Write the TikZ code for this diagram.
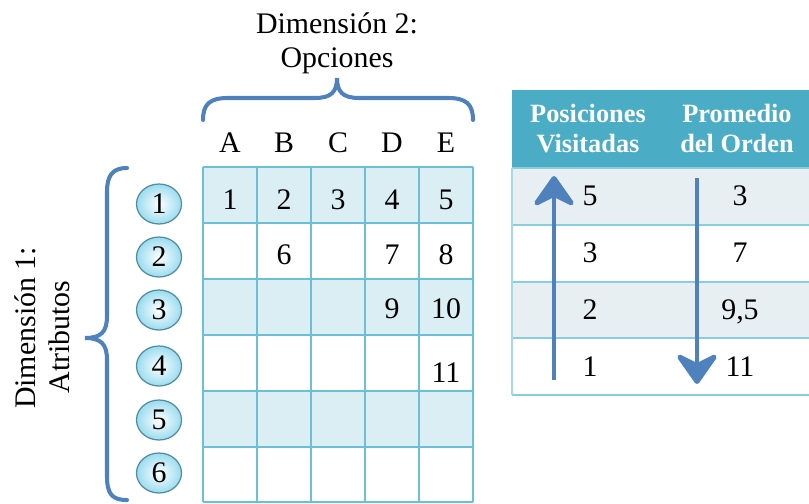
\documentclass[tikz,border=0pt]{standalone}
\usepackage{fontspec}
\setmainfont{Liberation Serif}
\usetikzlibrary{arrows.meta,shapes.geometric}

\definecolor{azul}{HTML}{4F81BD}
\definecolor{agua}{HTML}{4BACC6}
\definecolor{lineas}{HTML}{6CC0D6}
\definecolor{sombra}{HTML}{DAEEF3}
\definecolor{gris}{HTML}{E8EFF3}
\definecolor{celeste}{HTML}{9ADCEF}
\definecolor{bordebola}{HTML}{4F8C9E}

\begin{document}
\begin{tikzpicture}[x=0.02cm,y=-0.02cm,
  txt/.style={font=\fontsize{17}{20}\selectfont,anchor=base,inner sep=0pt},
  hdr/.style={font=\fontsize{15}{18}\selectfont\bfseries,text=white,anchor=base,inner sep=0pt},
  bola/.style={ellipse,draw=bordebola,line width=0.7pt,inner color=white,outer color=celeste,
    minimum width=0.9cm,minimum height=0.8cm,inner sep=0pt,font=\fontsize{17}{20}\selectfont},
  llave/.style={draw=azul,line width=2.3pt,line cap=round},
  flecha/.style={draw=azul,line width=2.8pt,-{Stealth[round,length=20pt,width=28pt,inset=7pt]}}]
\useasboundingbox (0,0) rectangle (809,504);

% Dimension 2 con su llave
\node[txt] (dim2a) at (337,33) {Dimensión 2:};
\node[txt] (dim2b) at (337,67) {Opciones};
\draw[llave] (203,120) .. controls (203,104) and (210,98) .. (228,98) -- (315,98)
  .. controls (331,98) and (337,92) .. (337,78)
  .. controls (337,92) and (343,98) .. (359,98) -- (448,98)
  .. controls (466,98) and (473,104) .. (473,120);

% Dimension 1 con su llave
\node[txt,rotate=90] (dim1a) at (35,328) {Dimensión 1:};
\node[txt,rotate=90] (dim1b) at (70,337) {Atributos};
\draw[llave] (127,168) .. controls (112,168) and (107,176) .. (107,192) -- (107,316)
  .. controls (107,332) and (101,338) .. (85,338)
  .. controls (101,338) and (107,344) .. (107,360) -- (107,476)
  .. controls (107,494) and (112,500) .. (127,500);

% columnas A-E
\foreach \l [count=\c] in {A,B,C,D,E}
  \node[txt] (col\l) at ({230+54*(\c-1)},152) {\l};

% filas 1-6
\foreach \r/\y in {1/204,2/257,3/310,4/366,5/420,6/473}
  \node[bola] (fila\r) at (159,\y) {\r};

% matriz
\foreach \y in {167,279,391}
  \fill[sombra] (203,\y) rectangle (473,\y+56);
\foreach \x in {203,257,311,365,419,473}
  \draw[lineas,line width=1.1pt] (\x,167) -- (\x,502);
\foreach \y in {167,223,279,335,391,447,502}
  \draw[lineas,line width=1.1pt] (203,\y) -- (473,\y);
\foreach \c/\y/\v in {1/209/1,2/209/2,3/209/3,4/209/4,5/209/5,2/264/6,4/264/7,5/264/8,4/318/9,5/318/10,5/382/11}
  \node[txt] (m\v) at ({230+54*(\c-1)},\y) {\v};

% tabla de la derecha
\fill[agua] (512,90) rectangle (809,168);
\fill[gris] (512,168) rectangle (809,225);
\fill[gris] (512,282) rectangle (809,338);
\foreach \y in {168,225,282,338,395}
  \draw[lineas!80,line width=1pt] (512,\y) -- (809,\y);
\draw[lineas!60,line width=0.8pt] (512,168) -- (512,395);
\node[hdr] (pos1) at (588,122) {Posiciones};
\node[hdr] (pos2) at (588,152) {Visitadas};
\node[hdr] (pro1) at (737,122) {Promedio};
\node[hdr] (pro2) at (737,152) {del Orden};
\foreach \a/\b [count=\i] in {5/3,3/7,2/{9,5},1/11} {
  \node[txt] (pv\i) at (590,{205+57*(\i-1)}) {\a};
  \node[txt] (po\i) at (740,{205+57*(\i-1)}) {\b};
}

% flechas
\coordinate (pvini) at (554,380);
\coordinate (pvfin) at (554,176);
\coordinate (poini) at (697,178);
\coordinate (pofin) at (697,384);
\draw[flecha] (pvini) -- (pvfin);
\draw[flecha] (poini) -- (pofin);
\end{tikzpicture}
\end{document}
